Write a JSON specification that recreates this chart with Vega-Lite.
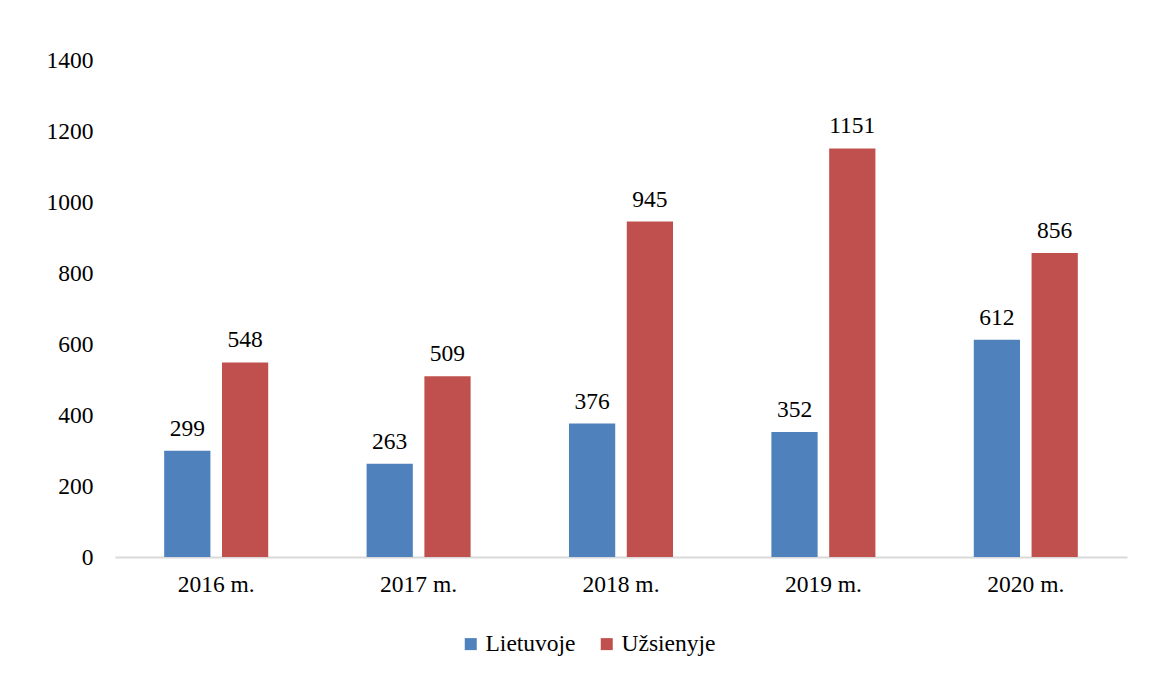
{
  "$schema": "https://vega.github.io/schema/vega-lite/v6.json",
  "width": 1012,
  "height": 497,
  "autosize": {"type": "none"},
  "padding": {"left": 115, "top": 60, "right": 25, "bottom": 118},
  "background": "white",
  "config": {
    "view": {"stroke": null},
    "font": "Liberation Serif",
    "axis": {"labelFont": "Liberation Serif"},
    "legend": {"labelFont": "Liberation Serif"},
    "text": {"font": "Liberation Serif"}
  },
  "data": {
    "values": [
      {"year": "2016 m.", "series": "Lietuvoje", "value": 299},
      {"year": "2016 m.", "series": "Užsienyje", "value": 548},
      {"year": "2017 m.", "series": "Lietuvoje", "value": 263},
      {"year": "2017 m.", "series": "Užsienyje", "value": 509},
      {"year": "2018 m.", "series": "Lietuvoje", "value": 376},
      {"year": "2018 m.", "series": "Užsienyje", "value": 945},
      {"year": "2019 m.", "series": "Lietuvoje", "value": 352},
      {"year": "2019 m.", "series": "Užsienyje", "value": 1151},
      {"year": "2020 m.", "series": "Lietuvoje", "value": 612},
      {"year": "2020 m.", "series": "Užsienyje", "value": 856}
    ]
  },
  "encoding": {
    "x": {
      "field": "year", "type": "nominal", "sort": null,
      "scale": {"paddingInner": 0.486, "paddingOuter": 0.243},
      "axis": {
        "title": null, "labelAngle": 0, "labelFontSize": 23.5, "labelColor": "#000000",
        "labelFont": "Liberation Serif",
        "labelPadding": 15, "ticks": false, "domainColor": "#d9d9d9", "domainWidth": 2,
        "grid": false
      }
    },
    "xOffset": {"field": "series", "type": "nominal", "scale": {"paddingInner": 0.2}},
    "y": {
      "field": "value", "type": "quantitative",
      "scale": {"domain": [0, 1400]},
      "axis": {
        "title": null, "values": [0, 200, 400, 600, 800, 1000, 1200, 1400], "format": "d",
        "labelFontSize": 23.5, "labelColor": "#000000", "labelPadding": 22,
        "labelFont": "Liberation Serif",
        "ticks": false, "domain": false, "grid": false
      }
    }
  },
  "layer": [
    {
      "mark": {"type": "bar"},
      "encoding": {
        "color": {
          "field": "series", "type": "nominal",
          "scale": {"domain": ["Lietuvoje", "Užsienyje"], "range": ["#4f81bd", "#c0504d"]},
          "legend": {
            "title": null, "orient": "none", "direction": "horizontal",
            "legendX": 344, "legendY": 572, "padding": 0,
            "symbolType": "square", "symbolSize": 144, "symbolStrokeWidth": 0,
            "labelFontSize": 23.5, "labelColor": "#000000", "labelOffset": 3,
            "labelFont": "Liberation Serif",
            "columnPadding": 19
          }
        }
      }
    },
    {
      "mark": {"type": "text", "baseline": "alphabetic", "dy": -15, "fontSize": 23.5, "color": "#000000", "font": "Liberation Serif"},
      "encoding": {"text": {"field": "value", "type": "quantitative", "format": "d"}}
    }
  ]
}
